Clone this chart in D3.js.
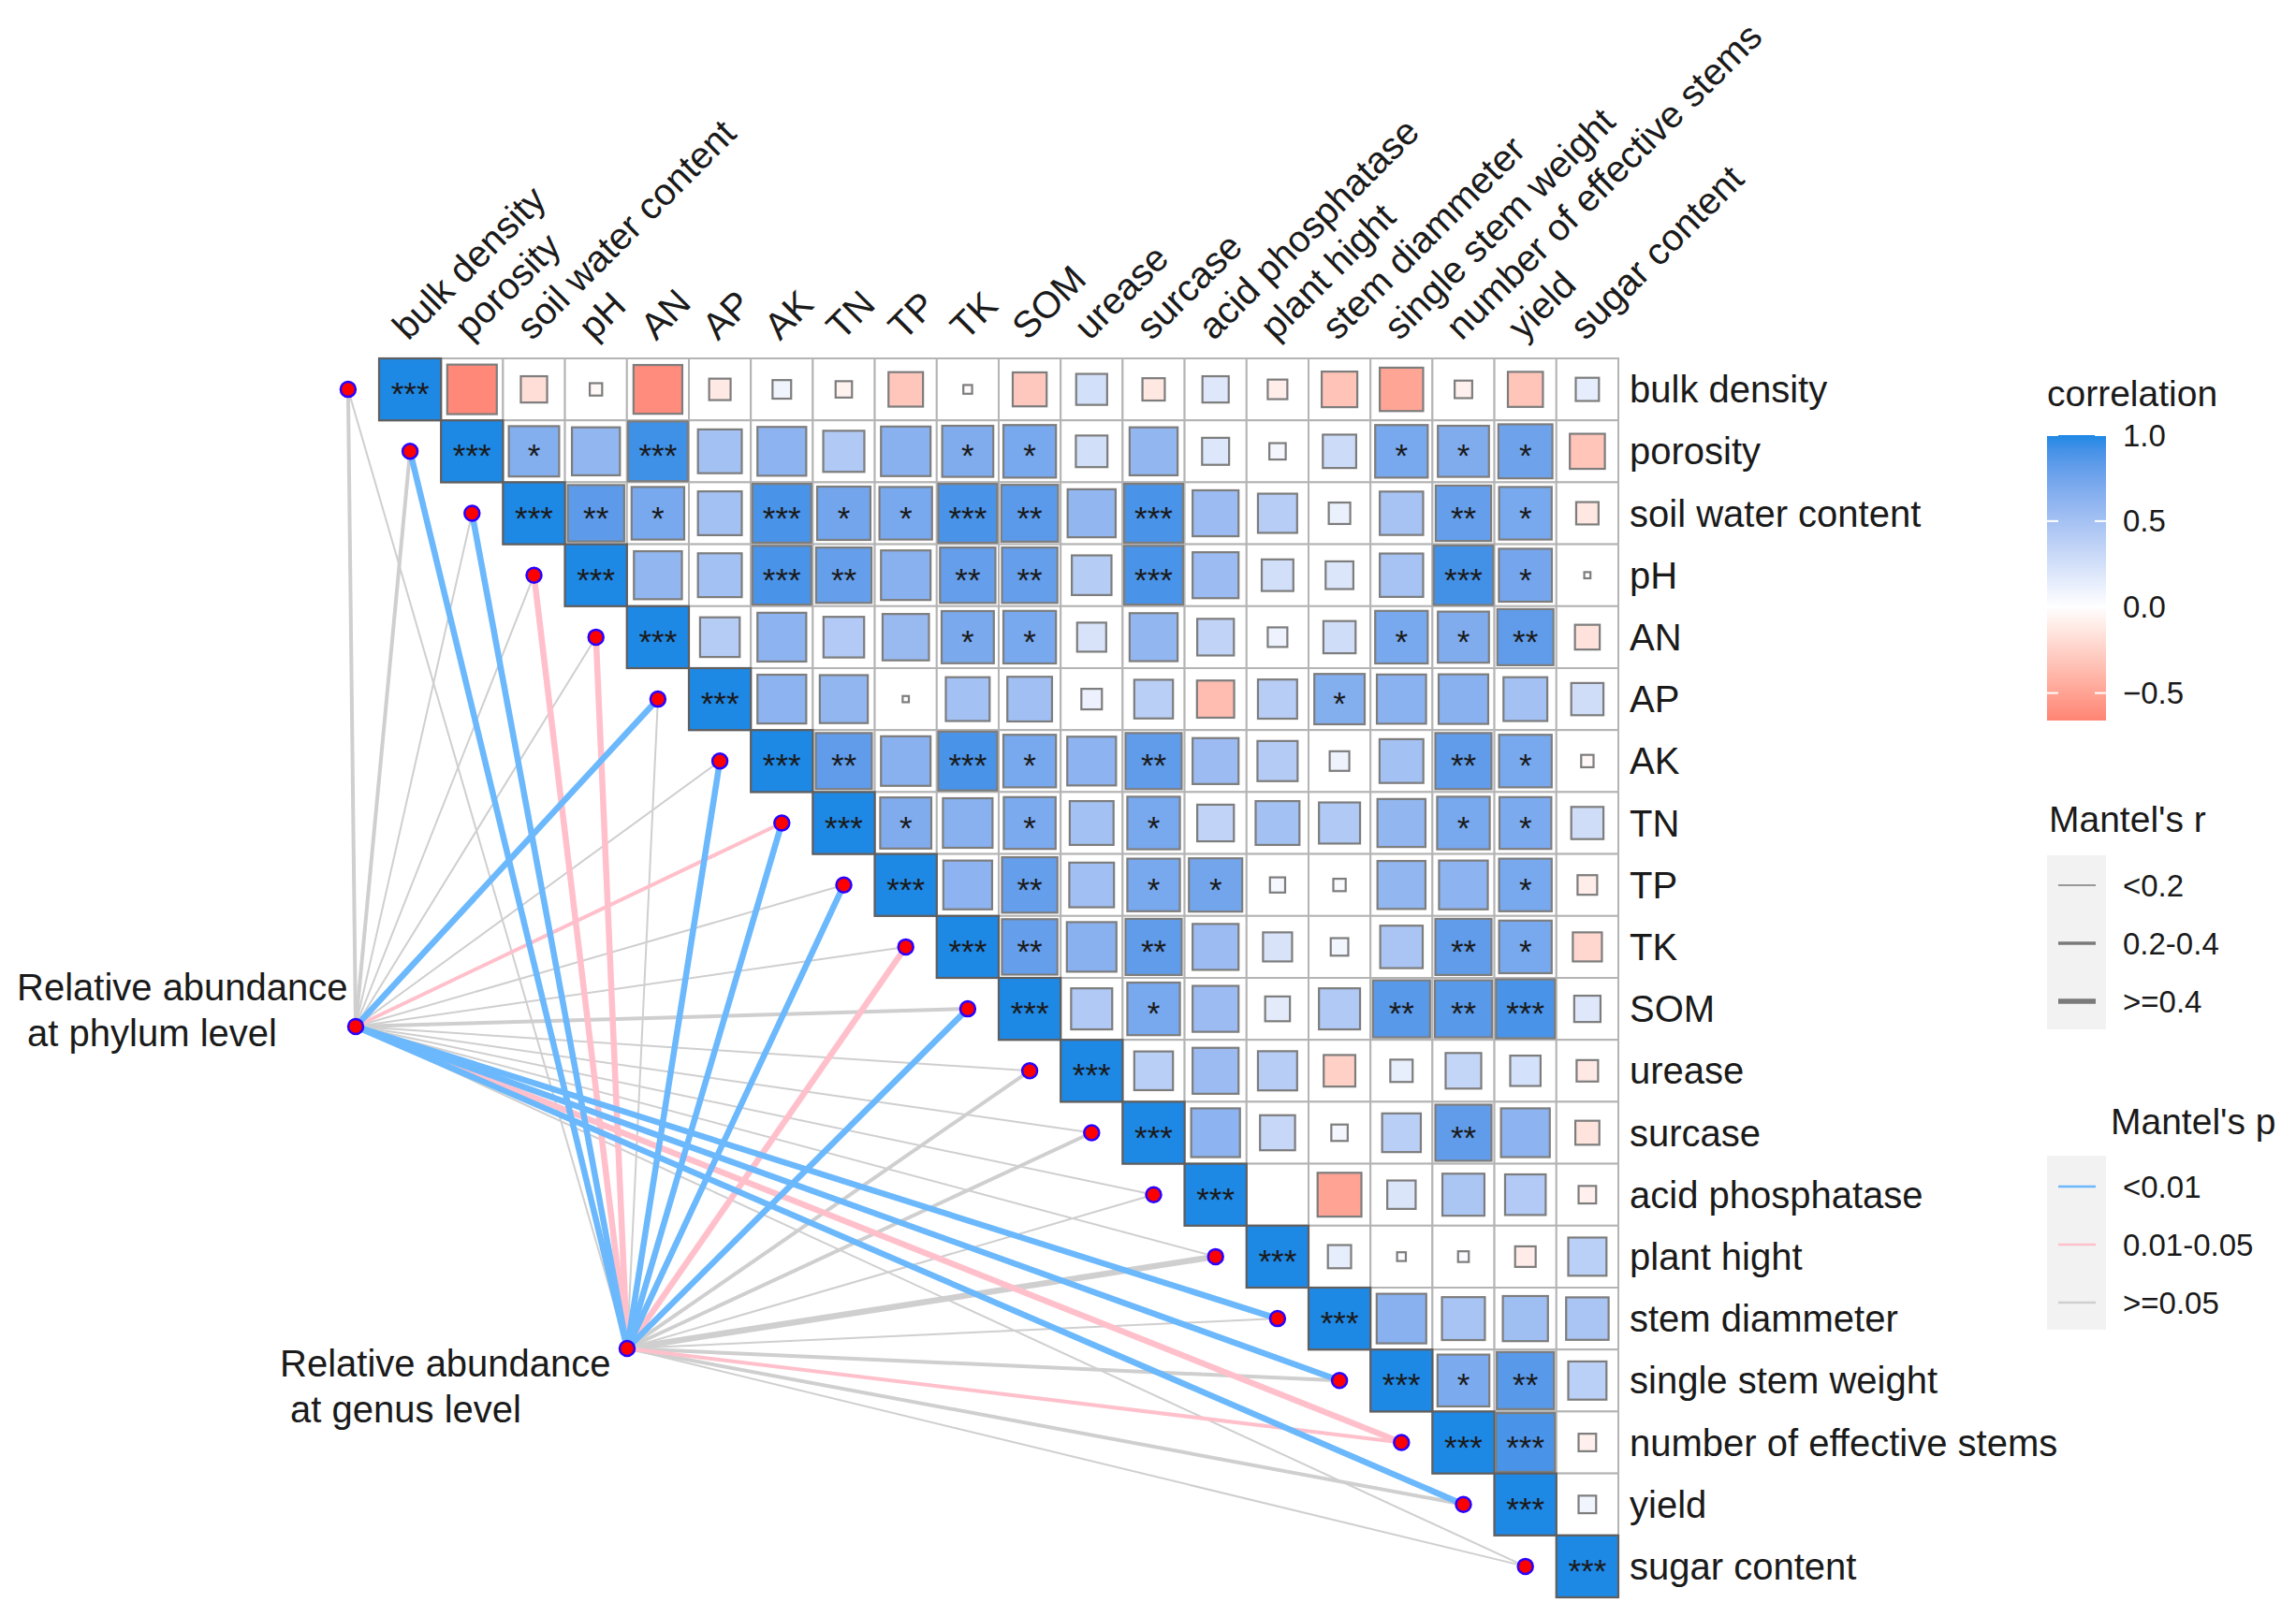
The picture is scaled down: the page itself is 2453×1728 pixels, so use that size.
<!DOCTYPE html>
<html>
<head>
<meta charset="utf-8">
<script src="https://cdn.jsdelivr.net/npm/d3@7"></script>
<style>
  body { margin: 0; background: #fff; }
  text { font-family: "Liberation Sans", Arial, sans-serif; fill: #1a1a1a; }
</style>
</head>
<body>
<div id="chart"></div>
<script>
(function() {
    // ---- data ----
    var variables = ["bulk density", "porosity", "soil water content", "pH", "AN", "AP", "AK", "TN", "TP", "TK",
        "SOM", "urease", "surcase", "acid phosphatase", "plant hight", "stem diammeter", "single stem weight",
        "number of effective stems", "yield", "sugar content"];

    // upper triangle, row i holds r for columns i..19
    var corrRows = [
        [1, -0.64, -0.18, -0.04, -0.62, -0.12, 0.09, -0.07, -0.31, -0.02, -0.30, 0.25, -0.13, 0.18, -0.10, -0.33, -0.49, -0.08, -0.32, 0.14],
        [1, 0.66, 0.60, 0.93, 0.50, 0.62, 0.44, 0.64, 0.68, 0.72, 0.26, 0.60, 0.19, 0.07, 0.29, 0.72, 0.68, 0.76, -0.32],
        [1, 0.83, 0.72, 0.50, 0.90, 0.74, 0.72, 0.90, 0.84, 0.60, 0.90, 0.55, 0.40, 0.12, 0.49, 0.80, 0.72, -0.13],
        [1, 0.60, 0.50, 0.90, 0.80, 0.64, 0.80, 0.80, 0.41, 0.90, 0.55, 0.26, 0.20, 0.49, 0.92, 0.73, 0.01],
        [1, 0.41, 0.62, 0.43, 0.56, 0.71, 0.72, 0.22, 0.60, 0.35, 0.10, 0.27, 0.72, 0.68, 0.82, -0.16],
        [1, 0.62, 0.60, 0.01, 0.50, 0.52, 0.11, 0.39, -0.36, 0.40, 0.66, 0.63, 0.64, 0.50, 0.27],
        [1, 0.82, 0.64, 0.90, 0.72, 0.62, 0.82, 0.55, 0.42, 0.10, 0.50, 0.82, 0.72, -0.04],
        [1, 0.68, 0.64, 0.70, 0.50, 0.72, 0.35, 0.50, 0.44, 0.60, 0.72, 0.70, 0.27],
        [1, 0.62, 0.80, 0.52, 0.72, 0.74, 0.06, 0.04, 0.60, 0.62, 0.72, -0.10],
        [1, 0.80, 0.64, 0.82, 0.55, 0.22, 0.08, 0.47, 0.82, 0.72, -0.22],
        [1, 0.44, 0.72, 0.55, 0.16, 0.44, 0.85, 0.85, 0.90, 0.18],
        [1, 0.39, 0.55, 0.40, -0.26, 0.13, 0.33, 0.24, -0.12],
        [1, 0.62, 0.32, 0.07, 0.39, 0.82, 0.62, -0.15],
        [1, 0, -0.50, 0.21, 0.46, 0.43, -0.08],
        [1, 0.14, 0.02, 0.03, -0.11, 0.38],
        [1, 0.64, 0.48, 0.53, 0.47],
        [1, 0.70, 0.85, 0.38],
        [1, 0.90, -0.08],
        [1, 0.08],
        [1]
    ];

    // number of significance stars, same layout as corrRows
    var starRows = [
        [3, 0, 0, 0, 0, 0, 0, 0, 0, 0, 0, 0, 0, 0, 0, 0, 0, 0, 0, 0],
        [3, 1, 0, 3, 0, 0, 0, 0, 1, 1, 0, 0, 0, 0, 0, 1, 1, 1, 0],
        [3, 2, 1, 0, 3, 1, 1, 3, 2, 0, 3, 0, 0, 0, 0, 2, 1, 0],
        [3, 0, 0, 3, 2, 0, 2, 2, 0, 3, 0, 0, 0, 0, 3, 1, 0],
        [3, 0, 0, 0, 0, 1, 1, 0, 0, 0, 0, 0, 1, 1, 2, 0],
        [3, 0, 0, 0, 0, 0, 0, 0, 0, 0, 1, 0, 0, 0, 0],
        [3, 2, 0, 3, 1, 0, 2, 0, 0, 0, 0, 2, 1, 0],
        [3, 1, 0, 1, 0, 1, 0, 0, 0, 0, 1, 1, 0],
        [3, 0, 2, 0, 1, 1, 0, 0, 0, 0, 1, 0],
        [3, 2, 0, 2, 0, 0, 0, 0, 2, 1, 0],
        [3, 0, 1, 0, 0, 0, 2, 2, 3, 0],
        [3, 0, 0, 0, 0, 0, 0, 0, 0],
        [3, 0, 0, 0, 0, 2, 0, 0],
        [3, 0, 0, 0, 0, 0, 0],
        [3, 0, 0, 0, 0, 0],
        [3, 0, 0, 0, 0],
        [3, 1, 2, 0],
        [3, 3, 0],
        [3, 0],
        [3]
    ];

    var colorTicks = [1.0, 0.5, 0.0, -0.5];
    var rLabels = ["<0.2", "0.2-0.4", ">=0.4"];
    var pLabels = ["<0.01", "0.01-0.05", ">=0.05"];

    var sourceNames = ["Relative abundance\n at phylum level", "Relative abundance\n at genus level"];

    // Mantel test classes, one entry per variable
    var phylumR = ["0.2-0.4", "0.2-0.4", "<0.2", "<0.2", "<0.2", ">=0.4", "<0.2", "0.2-0.4", "<0.2", "<0.2",
        "0.2-0.4", "<0.2", "<0.2", "<0.2", "<0.2", ">=0.4", ">=0.4", ">=0.4", ">=0.4", "<0.2"];
    var phylumP = [">=0.05", ">=0.05", ">=0.05", ">=0.05", ">=0.05", "<0.01", ">=0.05", "0.01-0.05", ">=0.05", ">=0.05",
        ">=0.05", ">=0.05", ">=0.05", ">=0.05", ">=0.05", "<0.01", "<0.01", "0.01-0.05", "<0.01", ">=0.05"];
    var genusR = ["<0.2", ">=0.4", ">=0.4", ">=0.4", ">=0.4", "<0.2", ">=0.4", ">=0.4", ">=0.4", ">=0.4",
        ">=0.4", "0.2-0.4", "0.2-0.4", "<0.2", ">=0.4", "<0.2", "0.2-0.4", "0.2-0.4", "0.2-0.4", "<0.2"];
    var genusP = [">=0.05", "<0.01", "<0.01", "0.01-0.05", "0.01-0.05", ">=0.05", "<0.01", "<0.01", "<0.01", "0.01-0.05",
        "<0.01", ">=0.05", ">=0.05", ">=0.05", ">=0.05", ">=0.05", ">=0.05", "0.01-0.05", ">=0.05", ">=0.05"];

    // ---- layout ----
    var W = 2453, H = 1728;
    var x0 = 405, y0 = 383, cell = 66.2;
    var n = variables.length;

    var svg = d3.select("#chart").append("svg")
        .attr("width", W)
        .attr("height", H);
    svg.append("rect").attr("width", W).attr("height", H).attr("fill", "#fff");

    var x = d3.scaleBand().domain(variables).range([x0, x0 + cell * n]);
    var y = d3.scaleBand().domain(variables).range([y0, y0 + cell * n]);
    var bw = x.bandwidth();

    var fill = d3.scaleLinear()
        .domain([-0.66, 0, 1])
        .range(["#FF8474", "#FFFFFF", "#1E88E5"])
        .interpolate(d3.interpolateLab);
    var side = d3.scaleSqrt().domain([0, 1]).range([0, bw]);

    var lineColor = d3.scaleOrdinal().domain(pLabels).range(["#6BB8FC", "#FFC0CB", "#CFCFCF"]);
    var lineWidth = d3.scaleOrdinal().domain(rLabels).range([2, 4, 6.5]);

    // flatten upper triangle
    var cells = [];
    corrRows.forEach(function(row, i) {
        row.forEach(function(r, k) {
            cells.push({row: variables[i], col: variables[i + k], r: r, stars: starRows[i][k], diag: k === 0});
        });
    });

    // ---- links (drawn under the matrix nodes) ----
    var sources = [
        {name: sourceNames[0], x: 380, y: 1097, r: phylumR, p: phylumP},
        {name: sourceNames[1], x: 670, y: 1441, r: genusR, p: genusP}
    ];
    function nodeX(v) { return x(v) - bw / 2; }
    function nodeY(v) { return y(v) + bw / 2; }

    var links = [];
    sources.forEach(function(s) {
        variables.forEach(function(v, i) {
            links.push({s: s, v: v, r: s.r[i], p: s.p[i]});
        });
    });
    links.sort(function(a, b) { return pLabels.indexOf(b.p) - pLabels.indexOf(a.p); });

    svg.append("g").selectAll("line")
        .data(links)
        .enter().append("line")
            .attr("x1", function(d) { return d.s.x; })
            .attr("y1", function(d) { return d.s.y; })
            .attr("x2", function(d) { return nodeX(d.v); })
            .attr("y2", function(d) { return nodeY(d.v); })
            .attr("stroke", function(d) { return lineColor(d.p); })
            .attr("stroke-width", function(d) { return lineWidth(d.r); })
            .attr("stroke-linecap", "butt");

    // ---- correlation matrix ----
    var g = svg.append("g");
    g.selectAll(".bg")
        .data(cells)
        .enter().append("rect")
            .attr("class", "bg")
            .attr("x", function(d) { return x(d.col); })
            .attr("y", function(d) { return y(d.row); })
            .attr("width", bw)
            .attr("height", bw)
            .attr("fill", "#fff")
            .attr("stroke", "#B4B4B4")
            .attr("stroke-width", 2);

    g.selectAll(".sq")
        .data(cells.filter(function(d) { return d.r !== 0; }))
        .enter().append("rect")
            .attr("class", "sq")
            .attr("x", function(d) { return x(d.col) + (bw - side(Math.abs(d.r))) / 2; })
            .attr("y", function(d) { return y(d.row) + (bw - side(Math.abs(d.r))) / 2; })
            .attr("width", function(d) { return side(Math.abs(d.r)); })
            .attr("height", function(d) { return side(Math.abs(d.r)); })
            .attr("fill", function(d) { return fill(d.r); })
            .attr("stroke", function(d) { return d.diag ? "#5f5f5f" : "#7d7d7d"; })
            .attr("stroke-width", 2.2);

    g.selectAll(".star")
        .data(cells.filter(function(d) { return d.stars > 0; }))
        .enter().append("text")
            .attr("class", "star")
            .attr("x", function(d) { return x(d.col) + bw / 2; })
            .attr("y", function(d) { return y(d.row) + bw / 2 + 17; })
            .attr("text-anchor", "middle")
            .style("font-size", "35px")
            .text(function(d) { return "*".repeat(d.stars); });

    // axis labels
    svg.append("g").selectAll("text")
        .data(variables)
        .enter().append("text")
            .attr("transform", function(d) {
                return "translate(" + (x(d) + bw / 2 - 2) + "," + (y0 - 18) + ") rotate(-45)";
            })
            .style("font-size", "40px")
            .text(function(d) { return d; });

    svg.append("g").selectAll("text")
        .data(variables)
        .enter().append("text")
            .attr("x", x0 + cell * n + 12)
            .attr("y", function(d) { return y(d) + bw / 2; })
            .attr("dy", "0.35em")
            .style("font-size", "40px")
            .text(function(d) { return d; });

    // nodes
    var nodes = variables.map(function(v) { return {x: nodeX(v), y: nodeY(v)}; })
        .concat(sources.map(function(s) { return {x: s.x, y: s.y}; }));
    svg.append("g").selectAll("circle")
        .data(nodes)
        .enter().append("circle")
            .attr("cx", function(d) { return d.x; })
            .attr("cy", function(d) { return d.y; })
            .attr("r", 8)
            .attr("fill", "#FF0000")
            .attr("stroke", "#2A00FF")
            .attr("stroke-width", 2.5);

    // source labels
    var srcLabelPos = [{x: 18, y: sources[0].y - 28}, {x: 299, y: sources[1].y + 30}];
    sources.forEach(function(s, i) {
        var t = svg.append("text")
            .attr("x", srcLabelPos[i].x)
            .attr("y", srcLabelPos[i].y)
            .attr("xml:space", "preserve")
            .style("font-size", "40px")
            .style("white-space", "pre");
        s.name.split("\n").forEach(function(line, k) {
            t.append("tspan")
                .attr("x", srcLabelPos[i].x)
                .attr("dy", k === 0 ? 0 : 49)
                .text(line);
        });
    });

    // ---- legends ----
    var lg = svg.append("g");
    var lx = 2187, lw = 63, labX = 2268;

    // colour bar
    var cy = d3.scaleLinear().domain([-0.66, 1]).range([770, 465]);
    var grad = svg.append("defs").append("linearGradient")
        .attr("id", "cbar").attr("x1", 0).attr("y1", 1).attr("x2", 0).attr("y2", 0);
    d3.range(0, 1.0001, 0.05).forEach(function(t) {
        var v = -0.66 + t * 1.66;
        grad.append("stop").attr("offset", t).attr("stop-color", fill(v));
    });
    lg.append("text").attr("x", lx).attr("y", 434).style("font-size", "39px").text("correlation");
    lg.append("rect")
        .attr("x", lx).attr("y", cy(1)).attr("width", lw).attr("height", cy(-0.66) - cy(1))
        .attr("fill", "url(#cbar)");
    colorTicks.forEach(function(v) {
        [[lx, lx + 12], [lx + lw - 12, lx + lw]].forEach(function(seg) {
            lg.append("line")
                .attr("x1", seg[0]).attr("x2", seg[1])
                .attr("y1", cy(v)).attr("y2", cy(v))
                .attr("stroke", "#fff").attr("stroke-width", 2);
        });
        lg.append("text")
            .attr("x", labX).attr("y", cy(v)).attr("dy", "0.35em")
            .style("font-size", "33px")
            .text(d3.format(".1f")(v));
    });

    // Mantel's r
    lg.append("text").attr("x", lx + 2).attr("y", 889).style("font-size", "39px").text("Mantel's r");
    lg.append("rect").attr("x", lx).attr("y", 914).attr("width", lw).attr("height", 186).attr("fill", "#F2F2F2");
    rLabels.forEach(function(l, i) {
        var yy = 946 + i * 62;
        lg.append("line").attr("x1", lx + 12).attr("x2", lx + 52).attr("y1", yy).attr("y2", yy)
            .attr("stroke", "#7a7a7a").attr("stroke-width", lineWidth(l) * 0.85);
        lg.append("text").attr("x", labX).attr("y", yy).attr("dy", "0.35em").style("font-size", "33px").text(l);
    });

    // Mantel's p
    lg.append("text").attr("x", 2255).attr("y", 1212).style("font-size", "39px").text("Mantel's p");
    lg.append("rect").attr("x", lx).attr("y", 1235).attr("width", lw).attr("height", 186).attr("fill", "#F2F2F2");
    pLabels.forEach(function(l, i) {
        var yy = 1268 + i * 62;
        lg.append("line").attr("x1", lx + 12).attr("x2", lx + 52).attr("y1", yy).attr("y2", yy)
            .attr("stroke", lineColor(l)).attr("stroke-width", 2.5);
        lg.append("text").attr("x", labX).attr("y", yy).attr("dy", "0.35em").style("font-size", "33px").text(l);
    });
})();
</script>
</body>
</html>
